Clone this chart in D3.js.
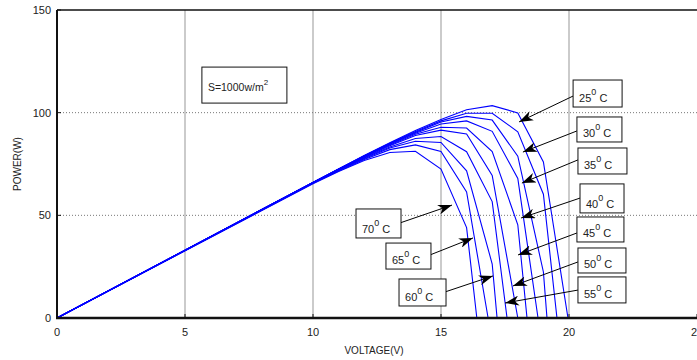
<!DOCTYPE html>
<html>
<head>
<meta charset="utf-8">
<script src="https://cdn.jsdelivr.net/npm/d3@7"></script>
<style>
  body { margin: 0; background: #fff; }
  text { font-family: "Liberation Sans", Arial, sans-serif; fill: #222; }
</style>
</head>
<body>
<div id="chart"></div>
<script>
// Data: voltage sample points and power for each temperature curve
const temps = [25, 30, 35, 40, 45, 50, 55, 60, 65, 70];
const volts = [0, 10, 11, 12, 13, 14, 15, 16, 17, 18, 19];
const vocs = [19.96, 19.53, 19.14, 18.79, 18.36, 18.0, 17.58, 17.19, 16.84, 16.4];
const p25 = [0, 66.0, 72.6, 79.2, 85.4, 91.3, 96.7, 101.4, 103.4, 99.9, 76.0];
const p30 = [0, 66.0, 72.6, 79.0, 85.1, 90.8, 96.0, 99.7, 99.7, 90.7, 60.3];
const p35 = [0, 66.0, 72.6, 78.9, 84.9, 90.4, 95.5, 98.2, 96.4, 78.8, 22.4];
const p40 = [0, 66.0, 72.5, 78.7, 84.6, 90.0, 94.5, 96.0, 90.9, 68.0];
const p45 = [0, 66.0, 72.4, 78.5, 84.2, 89.5, 92.9, 92.5, 81.1, 45.4];
const p50 = [0, 66.0, 72.3, 78.2, 83.9, 88.9, 91.5, 89.6, 69.4];
const p55 = [0, 65.9, 72.1, 77.9, 83.3, 87.4, 88.4, 81.0, 56.7];
const p60 = [0, 65.8, 71.9, 77.6, 82.8, 86.1, 85.5, 71.7, 26.3];
const p65 = [0, 65.6, 71.6, 77.2, 82.0, 84.3, 81.1, 61.4];
const p70 = [0, 65.4, 71.3, 76.7, 80.6, 81.2, 72.5, 44.0];
const powers = [p25, p30, p35, p40, p45, p50, p55, p60, p65, p70];
const xTicks = [0, 5, 10, 15, 20, 25];
const yTicks = [0, 50, 100, 150];

// Annotation layout (data units for anchor points)
const labelBoxes = [
  { x: 20.16, y: 115.9, w: 49, h: 27, tail: [20.16, 108.1], tip: [18.05, 95.5] },
  { x: 20.31, y: 97.9, w: 45, h: 25, tail: [20.31, 91.1], tip: [18.20, 80.8] },
  { x: 20.35, y: 82.8, w: 49, h: 26, tail: [20.35, 77.0], tip: [18.16, 65.7] },
  { x: 20.43, y: 65.3, w: 44, h: 29, tail: [20.43, 58.4], tip: [18.13, 48.7] },
  { x: 20.31, y: 49.2, w: 47, h: 25, tail: [20.31, 41.4], tip: [18.01, 30.7] },
  { x: 20.35, y: 34.1, w: 48, h: 25, tail: [20.35, 27.3], tip: [17.81, 15.6] },
  { x: 20.35, y: 20.0, w: 48, h: 26, tail: [20.35, 13.6], tip: [17.50, 7.3] },
  { x: 13.36, y: 19.0, w: 47, h: 27, tail: [15.16, 12.7], tip: [17.03, 20.5] },
  { x: 12.85, y: 36.5, w: 45, h: 26, tail: [14.57, 30.7], tip: [16.25, 39.0] },
  { x: 11.68, y: 53.1, w: 45, h: 29, tail: [13.40, 46.3], tip: [15.43, 55.0] }
];

const width = 697;
const height = 360;
const margin = { top: 10, right: 0, bottom: 42, left: 57 };

const svg = d3.select('#chart')
  .append('svg')
  .attr('width', width)
  .attr('height', height);

const xScale = d3.scaleLinear()
  .domain([0, 25])
  .range([margin.left, width - margin.right]);

const yScale = d3.scaleLinear()
  .domain([0, 150])
  .range([height - margin.bottom, margin.top]);

// Grid
svg.append('g')
  .selectAll('line')
  .data(xTicks.filter(d => d > 0 && d < 25))
  .join('line')
  .attr('x1', d => xScale(d)).attr('x2', d => xScale(d))
  .attr('y1', yScale(0)).attr('y2', yScale(150))
  .attr('stroke', '#a8a8a8')
  .attr('stroke-width', 1.2);

svg.append('g')
  .selectAll('line')
  .data(yTicks.filter(d => d > 0 && d < 150))
  .join('line')
  .attr('x1', xScale(0)).attr('x2', xScale(25))
  .attr('y1', d => yScale(d)).attr('y2', d => yScale(d))
  .attr('stroke', '#777')
  .attr('stroke-width', 1)
  .attr('stroke-dasharray', '1,2');

// Curves
const line = d3.line()
  .x(d => xScale(d[0]))
  .y(d => yScale(d[1]));

const curves = powers.map((p, i) => {
  const pts = p.map((v, j) => [volts[j], v]);
  pts.push([vocs[i], 0]);
  return pts;
});

svg.append('g')
  .selectAll('path')
  .data(curves)
  .join('path')
  .attr('d', line)
  .attr('fill', 'none')
  .attr('stroke', '#0000ff')
  .attr('stroke-width', 1.1);

// Axes frame
const x0 = xScale(0), x1 = xScale(25), y0 = yScale(0), y1 = yScale(150);
svg.append('line').attr('x1', x0).attr('x2', x1).attr('y1', y1).attr('y2', y1)
  .attr('stroke', '#111').attr('stroke-width', 1.5);
svg.append('line').attr('x1', x0).attr('x2', x0).attr('y1', y1).attr('y2', y0)
  .attr('stroke', '#111').attr('stroke-width', 2);
svg.append('line').attr('x1', x0 - 1).attr('x2', x1).attr('y1', y0).attr('y2', y0)
  .attr('stroke', '#111').attr('stroke-width', 2.5);

// Ticks (inward)
svg.append('g')
  .selectAll('line')
  .data(xTicks)
  .join('line')
  .attr('x1', d => xScale(d)).attr('x2', d => xScale(d))
  .attr('y1', y0).attr('y2', y0 - 4)
  .attr('stroke', '#111');

svg.append('g')
  .selectAll('line')
  .data(yTicks)
  .join('line')
  .attr('x1', x0).attr('x2', x0 + 4)
  .attr('y1', d => yScale(d)).attr('y2', d => yScale(d))
  .attr('stroke', '#111');

// Tick labels
svg.append('g')
  .selectAll('text')
  .data(xTicks)
  .join('text')
  .attr('x', d => xScale(d))
  .attr('y', y0 + 18)
  .attr('text-anchor', 'middle')
  .attr('font-size', 11)
  .text(d => d);

svg.append('g')
  .selectAll('text')
  .data(yTicks)
  .join('text')
  .attr('x', x0 - 6)
  .attr('y', d => yScale(d) + 4)
  .attr('text-anchor', 'end')
  .attr('font-size', 11)
  .text(d => d);

// Axis titles
svg.append('text')
  .attr('x', 374)
  .attr('y', 354)
  .attr('text-anchor', 'middle')
  .attr('font-size', 10)
  .text('VOLTAGE(V)');

svg.append('text')
  .attr('transform', `translate(21, ${(y0 + y1) / 2}) rotate(-90)`)
  .attr('text-anchor', 'middle')
  .attr('font-size', 10)
  .text('POWER(W)');

// Arrow marker
svg.append('defs').append('marker')
  .attr('id', 'head')
  .attr('viewBox', '0 0 14 10')
  .attr('refX', 14).attr('refY', 5)
  .attr('markerWidth', 14).attr('markerHeight', 10)
  .attr('markerUnits', 'userSpaceOnUse')
  .attr('orient', 'auto')
  .append('path')
  .attr('d', 'M0,0 L14,5 L0,10 L4,5 Z')
  .attr('fill', '#000');

// Irradiance box
const sx = xScale(5.66), sy = yScale(122.2);
svg.append('rect')
  .attr('x', sx).attr('y', sy).attr('width', 85).attr('height', 36)
  .attr('fill', '#fff').attr('stroke', '#111').attr('stroke-width', 1);
const st = svg.append('text').attr('x', sx + 6).attr('y', sy + 24).attr('font-size', 10.5);
st.append('tspan').text('S=1000w/m');
st.append('tspan').attr('dy', -6).attr('font-size', 8).text('2');

// Temperature labels with arrows
const ann = svg.append('g');
labelBoxes.forEach((b, i) => {
  ann.append('line')
    .attr('x1', xScale(b.tail[0])).attr('y1', yScale(b.tail[1]))
    .attr('x2', xScale(b.tip[0])).attr('y2', yScale(b.tip[1]))
    .attr('stroke', '#000').attr('stroke-width', 1)
    .attr('marker-end', 'url(#head)');
  const bx = xScale(b.x), by = yScale(b.y);
  ann.append('rect')
    .attr('x', bx).attr('y', by).attr('width', b.w).attr('height', b.h)
    .attr('fill', '#fff').attr('stroke', '#111').attr('stroke-width', 1);
  const t = ann.append('text')
    .attr('x', bx + 6).attr('y', by + b.h - 5)
    .attr('font-size', 11);
  t.append('tspan').text(temps[i]);
  t.append('tspan').attr('dy', -7).attr('font-size', 9).text('0');
  t.append('tspan').attr('dy', 7).text(' C');
});
</script>
</body>
</html>
